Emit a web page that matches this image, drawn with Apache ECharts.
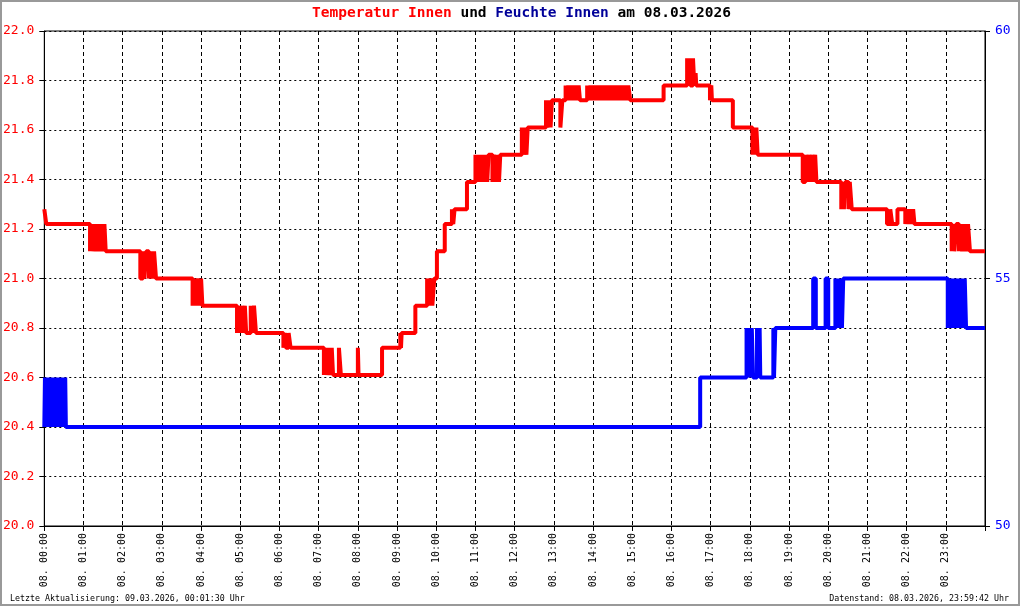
<!DOCTYPE html>
<html><head><meta charset="utf-8">
<script src="https://cdn.jsdelivr.net/npm/echarts@6/dist/echarts.min.js"></script>
<style>html,body{margin:0;padding:0;background:#fff}#c{width:1020px;height:606px}</style>
</head><body><div id="c"></div>
<script>
const hourTicks = ['08. 00:00','08. 01:00','08. 02:00','08. 03:00','08. 04:00','08. 05:00','08. 06:00','08. 07:00',
  '08. 08:00','08. 09:00','08. 10:00','08. 11:00','08. 12:00','08. 13:00','08. 14:00','08. 15:00',
  '08. 16:00','08. 17:00','08. 18:00','08. 19:00','08. 20:00','08. 21:00','08. 22:00','08. 23:00'];

const tempTimes = ['00:00','00:03','01:10','01:12','01:14','01:17','01:19','01:22','01:24','01:27','01:29','01:32','01:34',
  '02:27','02:31','02:33','02:36','02:40','02:43','02:46','02:48','02:51',
  '03:47','03:49','03:52','03:55','03:58','04:00','04:02',
  '04:55','04:57','04:59','05:02','05:04','05:07','05:09','05:16','05:18','05:21','05:24',
  '06:06','06:08','06:10','06:14','06:17',
  '07:08','07:10','07:12','07:15','07:17','07:20','07:22','07:31','07:34','08:00','08:01','08:37',
  '09:05','09:06','09:07','09:28','09:46','09:48','09:51','09:54','09:57',
  '10:01','10:13','10:24','10:26','10:28','10:47',
  '11:00','11:02','11:04','11:06','11:08','11:10','11:12','11:14','11:16','11:18','11:20','11:26','11:28','11:31','11:33','11:36','11:38',
  '12:11','12:13','12:15','12:18','12:20','12:48','12:50','12:53','12:55','12:57',
  '13:10','13:13','13:18','13:20','13:22','13:25','13:27','13:30','13:33','13:36','13:38','13:40',
  '13:51','13:53','13:56','13:58','14:01','14:04','14:07','14:10','14:12','14:15','14:18','14:21','14:24','14:27','14:30','14:33',
  '14:36','14:39','14:42','14:45','14:48','14:51','14:54','14:57',
  '15:48','16:24','16:26','16:27','16:29','16:33','16:35','16:37','16:38','16:59','17:01','17:02',
  '17:34','18:04','18:06','18:08','18:10','18:12',
  '19:21','19:25','19:27','19:30','19:32','19:35','19:37','19:40','19:42',
  '20:20','20:22','20:24','20:26','20:31','20:33','20:36',
  '21:30','21:35','21:38','21:46','21:58','22:00','22:03','22:05','22:08','22:10','22:12',
  '23:09','23:11','23:13','23:16','23:20','23:22','23:25','23:28','23:31','23:34','23:37','24:00'];
const tempValues = [21.28,21.22,21.11,21.22,21.11,21.22,21.11,21.22,21.11,21.22,21.11,21.22,21.11,
  21.00,21.11,21.00,21.11,21.00,21.11,21.00,21.11,21.00,
  20.89,21.00,20.89,21.00,20.89,21.00,20.89,
  20.78,20.89,20.78,20.89,20.78,20.89,20.78,20.89,20.78,20.89,20.78,
  20.72,20.78,20.72,20.78,20.72,
  20.61,20.72,20.61,20.72,20.61,20.72,20.61,20.72,20.61,20.72,20.61,20.72,
  20.78,20.72,20.78,20.89,21.00,20.89,21.00,20.89,21.00,
  21.11,21.22,21.28,21.22,21.28,21.39,
  21.50,21.39,21.50,21.39,21.50,21.39,21.50,21.39,21.50,21.39,21.50,21.39,21.50,21.39,21.50,21.39,21.50,
  21.61,21.50,21.61,21.50,21.61,21.72,21.61,21.72,21.61,21.72,
  21.61,21.72,21.78,21.72,21.78,21.72,21.78,21.72,21.78,21.72,21.78,21.72,
  21.78,21.72,21.78,21.72,21.78,21.72,21.78,21.72,21.78,21.72,21.78,21.72,21.78,21.72,21.78,21.72,
  21.78,21.72,21.78,21.72,21.78,21.72,21.78,21.72,
  21.78,21.89,21.78,21.89,21.78,21.89,21.78,21.83,21.78,21.72,21.78,21.72,
  21.61,21.50,21.61,21.50,21.61,21.50,
  21.39,21.50,21.39,21.50,21.39,21.50,21.39,21.50,21.39,
  21.28,21.39,21.28,21.39,21.28,21.39,21.28,
  21.22,21.28,21.22,21.28,21.22,21.28,21.22,21.28,21.22,21.28,21.22,
  21.11,21.22,21.11,21.22,21.11,21.22,21.11,21.22,21.11,21.22,21.11,21.11];

const humTimes = ['00:00','00:01','00:03','00:05','00:07','00:09','00:11','00:13','00:15','00:17','00:19','00:21','00:23','00:25','00:27','00:29','00:31','00:32','00:33',
  '16:44','17:55','17:57','17:59','18:01','18:03','18:05','18:11','18:13','18:15','18:16',
  '18:36','18:37','18:39','19:37','19:41','19:56','20:00',
  '20:11','20:13','20:15','20:17','20:19','20:21','20:23',
  '23:03','23:05','23:07','23:10','23:11','23:13','23:15','23:17','23:19','23:21','23:23','23:25','23:27','23:29','23:31','24:00'];
const humValues = [52,53,52,53,52,53,52,53,52,53,52,53,52,53,52,53,52,53,52,
  53,54,53,54,53,54,53,54,53,54,53,
  54,53,54,55,54,55,54,
  55,54,55,54,55,54,55,
  54,55,54,55,54,55,54,55,54,55,54,55,54,55,54,54];

function toH(s){const p=s.split(':');return +p[0]+(+p[1])/60;}
const tempData = tempTimes.map((t,i)=>[toH(t),tempValues[i]]);
const humData = humTimes.map((t,i)=>[toH(t),humValues[i]]);

const mono = 'DejaVu Sans Mono';
const chart = echarts.init(document.getElementById('c'), null, {renderer:'canvas'});
chart.setOption({
  animation:false,
  backgroundColor:'#fff',
  title:{
    left:312, top:6, padding:0,
    text:'{r|Temperatur Innen} {k|und} {b|Feuchte Innen} {k|am 08.03.2026}',
    textStyle:{fontFamily:mono,fontSize:14.5,fontWeight:'bold',
      rich:{
        r:{color:'#ff0000',fontFamily:mono,fontSize:14.5,fontWeight:'bold'},
        k:{color:'#000000',fontFamily:mono,fontSize:14.5,fontWeight:'bold'},
        b:{color:'#000099',fontFamily:mono,fontSize:14.5,fontWeight:'bold'}
      }}
  },
  grid:{left:43,right:35,top:31,bottom:80,show:true,borderColor:'#000',borderWidth:1,backgroundColor:'transparent'},
  xAxis:{
    type:'value',min:0,max:24,interval:1,
    axisLine:{show:true,onZero:false,lineStyle:{color:'#000',width:1}},
    axisTick:{show:true,length:5,lineStyle:{color:'#000'}},
    axisLabel:{rotate:90,margin:7,fontFamily:mono,fontSize:10,color:'#000',
      formatter:v=>v<24?hourTicks[Math.round(v)]:''},
    splitLine:{show:true,lineStyle:{color:'#000',width:1,type:[4,3]}}
  },
  yAxis:[{
    type:'value',min:20,max:22,interval:0.2,position:'left',
    axisLine:{show:true,lineStyle:{color:'#000'}},
    axisTick:{show:true,length:5,lineStyle:{color:'#000'}},
    axisLabel:{margin:10,fontFamily:mono,fontSize:13,color:'#ff0000',formatter:v=>v.toFixed(1)},
    splitLine:{show:true,lineStyle:{color:'#000',width:1,type:[2,3]}}
  },{
    type:'value',min:50,max:60,interval:5,position:'right',
    axisLine:{show:true,lineStyle:{color:'#000'}},
    axisTick:{show:true,length:5,lineStyle:{color:'#000'}},
    axisLabel:{margin:10,fontFamily:mono,fontSize:13,color:'#0000ff'},
    splitLine:{show:false}
  }],
  series:[{
    name:'Feuchte Innen',type:'line',step:'end',yAxisIndex:1,data:humData,
    showSymbol:false,silent:true,lineStyle:{color:'#0000ff',width:4},itemStyle:{color:'#0000ff'}
  },{
    name:'Temperatur Innen',type:'line',step:'end',yAxisIndex:0,data:tempData,
    showSymbol:false,silent:true,lineStyle:{color:'#ff0000',width:4},itemStyle:{color:'#ff0000'}
  }],
  graphic:[
    {type:'rect',shape:{x:1,y:1,width:1018,height:604},style:{fill:'none',stroke:'#999',lineWidth:2},silent:true},
    {type:'text',x:10,y:599,style:{text:'Letzte Aktualisierung: 09.03.2026, 00:01:30 Uhr',font:'8.3px "DejaVu Sans Mono"',fill:'#000',textAlign:'left',textVerticalAlign:'middle'}},
    {type:'text',x:1009,y:599,style:{text:'Datenstand: 08.03.2026, 23:59:42 Uhr',font:'8.3px "DejaVu Sans Mono"',fill:'#000',textAlign:'right',textVerticalAlign:'middle'}}
  ]
});
</script></body></html>
